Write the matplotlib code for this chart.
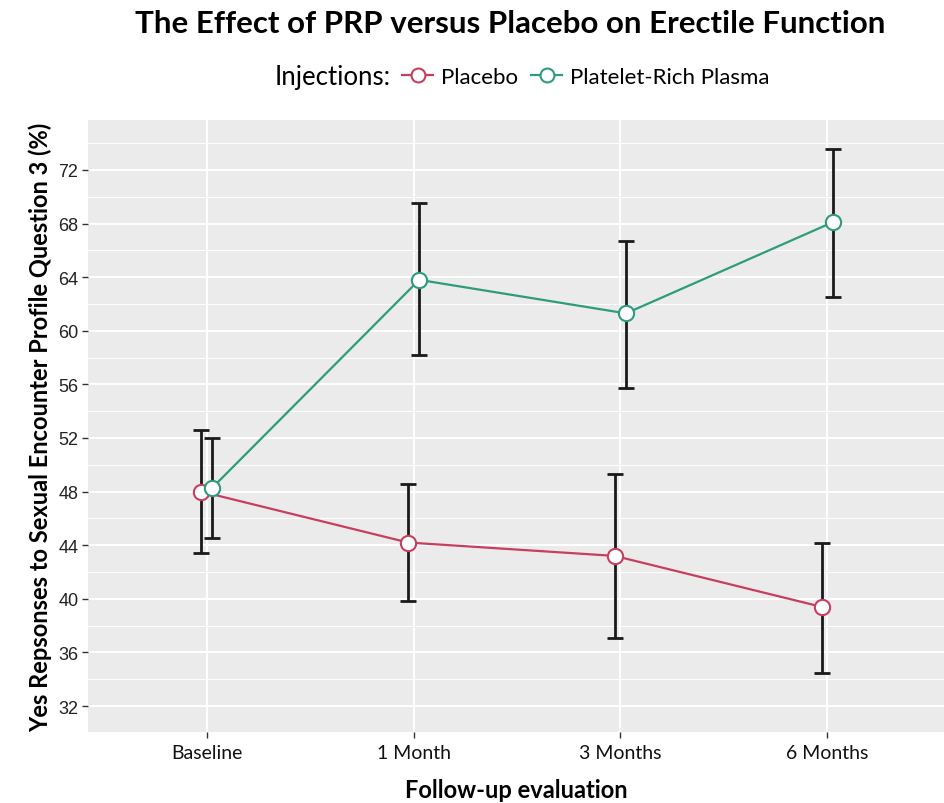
import numpy as np
import matplotlib
matplotlib.use("Agg")
import matplotlib.pyplot as plt
from matplotlib.lines import Line2D

# data
visits = ["Baseline", "1 Month", "3 Months", "6 Months"]
placebo_mean = [48.0, 44.2, 43.2, 39.4]
placebo_low = [43.4, 39.8, 37.1, 34.5]
placebo_high = [52.6, 48.6, 49.3, 44.2]
prp_mean = [48.3, 63.8, 61.3, 68.1]
prp_low = [44.5, 58.2, 55.7, 62.5]
prp_high = [52.0, 69.5, 66.7, 73.6]
groups = ["Placebo", "Platelet-Rich Plasma"]
colors = ["#C83E5E", "#2E9C7C"]

plt.rcParams['font.family'] = ['Lato', 'DejaVu Sans']

fig = plt.figure(figsize=(9.45, 8.04), dpi=100)
ax = fig.add_axes([88 / 945, 1 - 733 / 804, (945 - 88) / 945, (733 - 121) / 804])
ax.set_facecolor("#EBEBEB")
for s in ax.spines.values():
    s.set_visible(False)

x = np.arange(len(visits))
dodge = 0.027
series = [
    (placebo_mean, placebo_low, placebo_high, -dodge),
    (prp_mean, prp_low, prp_high, dodge),
]
for (mean, lo, hi, off), col in zip(series, colors):
    xs = x + off
    mean = np.array(mean)
    err = [mean - np.array(lo), np.array(hi) - mean]
    ax.plot(xs, mean, color=col, lw=1.6, zorder=3)
    ax.errorbar(xs, mean, yerr=err, fmt="none", ecolor="#1a1a1a",
                elinewidth=2.0, capsize=5.5, capthick=2.0, zorder=4)
    ax.plot(xs, mean, "o", ms=11, mfc="white", mec=col, mew=1.5, zorder=5)

ax.set_xlim(-0.575, 3.57)
ax.set_ylim(30.06, 75.73)
ax.set_yticks(np.arange(32, 73, 4))
ax.set_yticks(np.arange(34, 76, 4), minor=True)
ax.set_xticks(x)
ax.set_xticklabels(visits)
ax.grid(True, which="major", color="white", lw=1.4, zorder=0)
ax.grid(True, which="minor", axis="y", color="white", lw=0.7, zorder=0)
ax.set_axisbelow(True)
ax.tick_params(which="major", length=4, width=1, color="#333333")
ax.tick_params(which="minor", length=0)
ax.tick_params(axis="y", labelsize=13, labelcolor="#222222", pad=3)
ax.tick_params(axis="x", labelsize=14, labelcolor="#111111", pad=5)
for lab in ax.get_yticklabels():
    lab.set_family("Liberation Sans")

ax.set_xlabel("Follow-up evaluation", fontsize=17, fontweight="bold", labelpad=12)
ax.set_ylabel("Yes Repsonses to Sexual Encounter Profile Question 3 (%)",
              fontsize=17, fontweight="bold", labelpad=4)

fig.text(0.54, 0.988, "The Effect of PRP versus Placebo on Erectile Function",
         ha="center", va="top", fontsize=22.5, fontweight="bold")

fig.text(275 / 945, 1 - 78 / 804, "Injections:", ha="left", va="center", fontsize=18.5)
handles = [Line2D([0], [0], color=c, lw=1.6, marker="o", ms=10, mfc="white",
                  mec=c, mew=1.5) for c in colors]
fig.legend(handles, groups, loc="center left", bbox_to_anchor=(402 / 945, 1 - 78 / 804),
           ncol=2, frameon=False, fontsize=16, handlelength=1.4, handletextpad=0.35,
           columnspacing=0.6, borderpad=0, borderaxespad=0)

fig.savefig("out.png", dpi=100)
